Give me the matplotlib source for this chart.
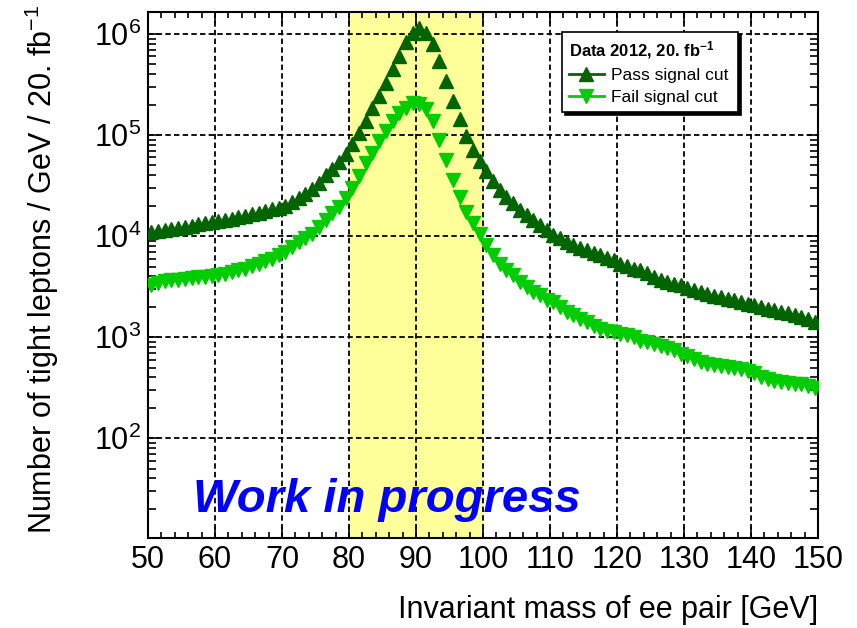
import numpy as np
import matplotlib
matplotlib.use("Agg")
import matplotlib.pyplot as plt
from matplotlib.lines import Line2D
from matplotlib.ticker import MultipleLocator, LogLocator, FuncFormatter, NullFormatter

plt.rcParams["font.family"] = ["Liberation Sans", "DejaVu Sans"]
plt.rcParams["mathtext.fontset"] = "custom"
plt.rcParams["mathtext.rm"] = "Liberation Sans"
plt.rcParams["mathtext.bf"] = "Liberation Sans:bold"

# ee invariant mass, 1 GeV bins from 50 to 150 GeV
mass_min = 50
mass_max = 150
bin_width = 1.0
mass = np.arange(mass_min + bin_width / 2, mass_max, bin_width)

# tight leptons / GeV, events passing the signal cut
pass_counts = [
    11100, 11300, 11500, 11800, 12100, 12400, 12700, 13100, 13400, 13700,
    14000, 14400, 14900, 15300, 15800, 16400, 17100, 17900, 18700, 19100,
    20000, 21600, 23700, 26300, 29500, 33900, 39800, 45700, 53700, 65300,
    81300, 105000, 137000, 184000, 243000, 331000, 449000, 608000, 826000, 1020000,
    1150000, 1020000, 794000, 542000, 343000, 217000, 143000, 97300, 71800, 55000,
    43700, 34700, 28700, 24600, 21100, 18200, 16200, 14400, 12900, 11500,
    10200, 9480, 8770, 8130, 7660, 7260, 6820, 6430, 6080, 5770,
    5350, 5020, 4760, 4590, 4320, 3940, 3700, 3510, 3370, 3250,
    3060, 2900, 2800, 2690, 2580, 2490, 2400, 2310, 2220, 2140,
    2060, 1980, 1910, 1840, 1780, 1730, 1670, 1600, 1500, 1400,
]

# tight leptons / GeV, events failing the signal cut
fail_counts = [
    3300, 3450, 3560, 3640, 3700, 3770, 3840, 3900, 3970, 4060,
    4140, 4240, 4400, 4570, 4760, 5020, 5350, 5640, 6000, 6470,
    6980, 7830, 8770, 9490, 10600, 12400, 14400, 16800, 19600, 23700,
    29800, 38900, 52800, 66500, 86700, 109000, 137000, 166000, 187000, 209000,
    201000, 179000, 137000, 90200, 57000, 36100, 24600, 17500, 13400, 10600,
    8130, 6470, 5350, 4590, 4090, 3510, 3130, 2790, 2590, 2340,
    2220, 1980, 1770, 1640, 1520, 1400, 1300, 1200, 1160, 1120,
    1080, 1040, 995, 920, 890, 855, 820, 790, 740, 680,
    650, 605, 565, 540, 530, 520, 510, 500, 480, 465,
    440, 400, 385, 370, 360, 355, 348, 342, 330, 316,
]

# Z mass window
z_lo = 80
z_hi = 100

pass_color = "#006400"
fail_color = "#00cc00"

fig = plt.figure(figsize=(8.57, 6.28), dpi=100)
ax = fig.add_axes([0.1727, 0.1433, 0.7818, 0.8376])

ax.axvspan(z_lo, z_hi, color="#ffff99", zorder=0.2, lw=0)

ax.plot(mass, pass_counts, ls="none", marker="^", ms=9.5, color=pass_color, zorder=3)
ax.plot(mass, fail_counts, ls="none", marker="v", ms=9.5, color=fail_color, zorder=3)

ax.set_yscale("log")
ax.set_xlim(mass_min, mass_max)
ax.set_ylim(10.3, 1.65e6)

# axis ticks
ax.xaxis.set_major_locator(MultipleLocator(10))
ax.xaxis.set_minor_locator(MultipleLocator(2))
ax.yaxis.set_major_locator(LogLocator(base=10))
ax.yaxis.set_minor_locator(LogLocator(base=10, subs=np.arange(2, 10)))
ax.yaxis.set_minor_formatter(NullFormatter())


def pow_label(v, pos):
    e = int(round(np.log10(v)))
    if e < 2:
        return ""
    return r"$\mathregular{10^{%d}}$" % e


ax.yaxis.set_major_formatter(FuncFormatter(pow_label))

ax.tick_params(which="both", direction="in", top=True, right=True, width=1.2)
ax.tick_params(axis="x", which="major", length=8, labelsize=22, pad=5)
ax.tick_params(axis="x", which="minor", length=4)
ax.tick_params(axis="y", which="major", length=8, labelsize=22, pad=5)
ax.tick_params(axis="y", which="minor", length=6)

for s in ax.spines.values():
    s.set_linewidth(1.5)

ax.set_axisbelow(True)
ax.grid(True, which="major", color="black", linestyle=(0, (3, 1.8)), linewidth=1.3)

# titles
ax.text(-0.158, 1.013, "Number of tight leptons / GeV / 20. fb$\\mathregular{^{-1}}$",
        rotation=90, ha="center", va="top", transform=ax.transAxes, fontsize=22)
ax.text(1.0, -0.137, "Invariant mass of ee pair [GeV]",
        ha="right", va="center", transform=ax.transAxes, fontsize=22)

ax.text(0.067, 0.049, "Work in progress", color="#0000ff", fontsize=34,
        fontweight="bold", fontstyle="italic", transform=ax.transAxes,
        va="baseline", ha="left", zorder=4)

# legend
handles = [
    Line2D([], [], color=pass_color, lw=2, marker="^", ms=10, label="Pass signal cut"),
    Line2D([], [], color=fail_color, lw=2, marker="v", ms=10, label="Fail signal cut"),
]
leg = ax.legend(handles=handles, title=r"Data 2012, 20. fb$\mathbf{^{-1}}$",
                loc="upper left", bbox_to_anchor=(0.618, 0.810, 0.263, 0.152),
                mode="expand", alignment="left", fontsize=12.5,
                title_fontproperties={"weight": "bold", "size": 12},
                fancybox=False, edgecolor="black", framealpha=1,
                borderpad=0.4, labelspacing=0.4, handlelength=2.0,
                handletextpad=0.4, borderaxespad=0,
                shadow={"ox": 2, "oy": -2, "color": "black", "alpha": 1})
leg.get_frame().set_linewidth(1.2)
leg.set_zorder(5)

fig.savefig("out.png", dpi=100)
